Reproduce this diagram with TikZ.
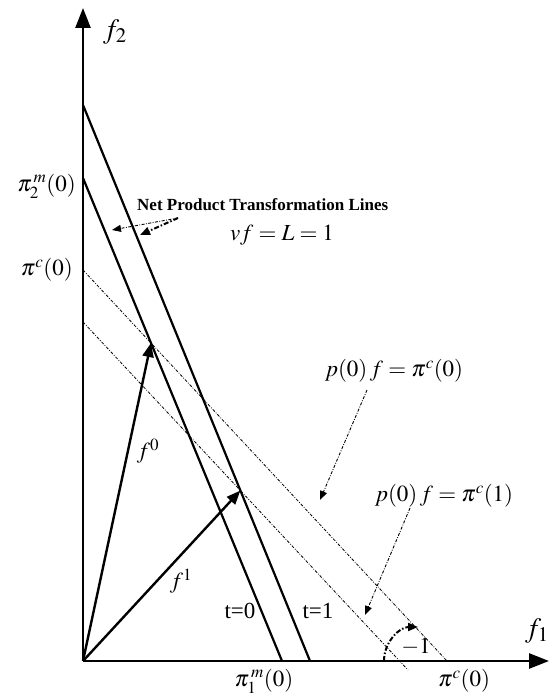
\documentclass[tikz,border=0pt]{standalone}
\usepackage{mathptmx}
\usepackage[no-math]{fontspec}
\setmainfont{Liberation Serif}
\usetikzlibrary{arrows.meta}

\tikzset{
  axis/.style={line width=2.6pt, -{Triangle[length=20pt,width=15pt]}},
  tline/.style={line width=2.2pt},
  budget/.style={line width=0.8pt, dash pattern=on 3pt off 1.5pt on 0.8pt off 1.5pt},
  vec/.style={line width=2.4pt, -{Triangle[length=14pt,width=11pt]}},
  note/.style={line width=0.9pt, dash pattern=on 3pt off 1.5pt on 0.8pt off 1.5pt, -{Triangle[length=9pt,width=7pt]}},
  thicknote/.style={line width=2pt, dash pattern=on 5pt off 2pt on 1.5pt off 2pt, -{Triangle[length=10pt,width=8pt]}},
  lab/.style={font=\fontsize{23}{26}\selectfont, inner sep=0pt},
  axlab/.style={font=\fontsize{28}{32}\selectfont, inner sep=0pt},
}

\begin{document}
\begin{tikzpicture}[x=1pt,y=1pt]
    \useasboundingbox (0,0) rectangle (551,698);

    % Axes
    \coordinate (O) at (83,37);
    \coordinate (ytop) at (83,690);
    \coordinate (xend) at (549,37);
    \draw[axis] (O) -- (ytop);
    \draw[axis] (O) -- (xend);
    \node[axlab] (f2) at (115,666) {$f_2$};
    \node[axlab] (f1) at (537,67) {$f_1$};

    % Net product transformation lines
    \coordinate (t1top) at (83,593);
    \coordinate (t1bot) at (310,37);
    \coordinate (t0top) at (83,520);
    \coordinate (t0bot) at (282,37);
    \draw[tline] (t1top) -- (t1bot);
    \draw[tline] (t0top) -- (t0bot);

    % Budget lines
    \coordinate (c0top) at (83,428);
    \coordinate (c0bot) at (447,37);
    \coordinate (c1top) at (83,376);
    \coordinate (c1bot) at (408,28);
    \draw[budget] (c0top) -- (c0bot);
    \draw[budget] (c1top) -- (c1bot);

    % Activity vectors
    \coordinate (F0) at (intersection of t0top--t0bot and c0top--c0bot);
    \coordinate (F1) at (intersection of t1top--t1bot and c1top--c1bot);
    \draw[vec] (O) -- (F0);
    \draw[vec] (O) -- (F1);
    \node[lab] (f0lab) at (148,247) {$f^{0}$};
    \node[lab] (f1lab) at (181,117) {$f^{1}$};

    % Intercept labels
    \node[lab, anchor=east] (pi2m) at (76,512) {$\pi_2^{\,m}(0)$};
    \node[lab, anchor=east] (pic0l) at (73,428) {$\pi^{c}(0)$};
    \node[lab] (pi1m) at (264,17) {$\pi_1^{\,m}(0)$};
    \node[lab] (pic0b) at (464,17) {$\pi^{c}(0)$};
    \node[lab] (t0lab) at (240,87) {t=0};
    \node[lab] (t1lab) at (318,87) {t=1};

    % Slope marker
    \coordinate (arcstart) at (384,37);
    \draw[thicknote] (arcstart) arc[start angle=180, end angle=90, radius=34];
    \node[lab] (slope) at (416,51) {$-1$};

    % Annotations
    \node[anchor=west, inner sep=0pt, font=\fontsize{17}{20}\selectfont\bfseries] (npt) at (137,493)
        {Net Product Transformation Lines};
    \node[lab] (vf) at (282,463) {$vf = L = 1$};
    \coordinate (nptfrom) at (178,480);
    \coordinate (nptto0) at (112,468);
    \coordinate (nptto1) at (140,463);
    \draw[note] (nptfrom) -- (nptto0);
    \draw[thicknote] (nptfrom) -- (nptto1);

    \node[lab] (pc0) at (394,327) {$p(0)\,f = \pi^{c}(0)$};
    \coordinate (pc0from) at (367,308);
    \coordinate (pc0to) at (320,198);
    \draw[note] (pc0from) -- (pc0to);

    \node[lab] (pc1) at (444,202) {$p(0)\,f = \pi^{c}(1)$};
    \coordinate (pc1from) at (410,190);
    \coordinate (pc1to) at (365,83);
    \draw[note] (pc1from) -- (pc1to);
\end{tikzpicture}
\end{document}
